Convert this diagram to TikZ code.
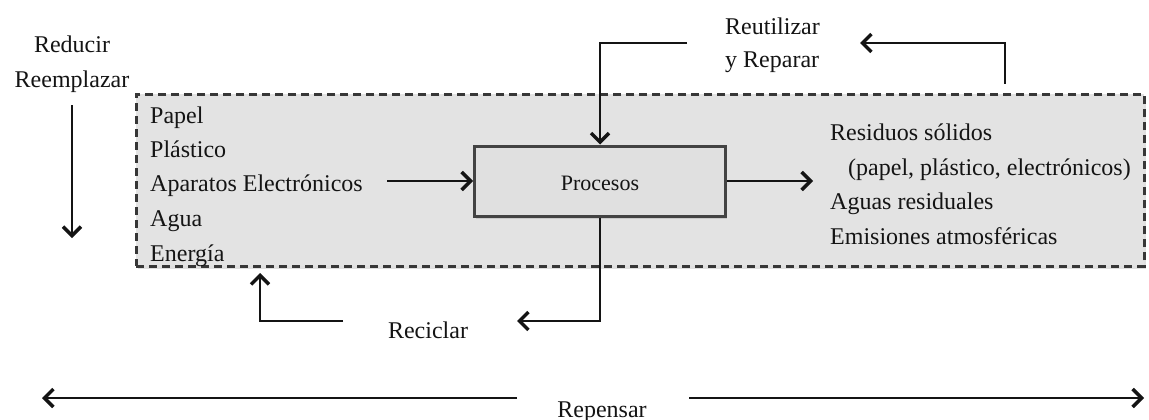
\documentclass[tikz,border=0pt]{standalone}
\usepackage{fontspec}
\setmainfont{Liberation Serif}
\usetikzlibrary{arrows.meta,shadows}
\definecolor{boxfill}{HTML}{E3E3E3}
\definecolor{procfill}{HTML}{E0E0E0}
\definecolor{ink}{HTML}{141414}
\tikzset{
  txt/.style={inner sep=0pt, text=ink, font=\fontsize{24}{28}\selectfont},
  proctxt/.style={inner sep=0pt, text=ink, font=\fontsize{22}{24}\selectfont},
  arr/.style={draw=ink, line width=2.8pt, -{Straight Barb[length=9pt,width=18pt,line width=3.4pt]}},
  sysbox/.style={draw=ink!85, line width=2.6pt, dash pattern=on 8pt off 5pt, fill=boxfill,
    drop shadow={opacity=0.25, shadow xshift=1.5pt, shadow yshift=-2.5pt}},
  procbox/.style={draw=ink!80, line width=3pt, fill=procfill,
    drop shadow={opacity=0.25, shadow xshift=1.5pt, shadow yshift=-2.5pt}},
}
\begin{document}
\begin{tikzpicture}[x=1pt,y=-1pt]
\useasboundingbox[fill=white] (0,0) rectangle (1149,420);

% system box
\node[sysbox, minimum width=1008pt, minimum height=172pt, anchor=north west, inner sep=0pt] (sys) at (135,93) {};

% Reducir / Reemplazar
\node[txt, anchor=base] (reducir) at (72,53) {Reducir};
\node[txt, anchor=base] (reemplazar) at (72,88) {Reemplazar};
\coordinate (rdtop) at (72,105);
\coordinate (rdbot) at (72,238);
\draw[arr] (rdtop) -- (rdbot);

% inputs
\node[txt, anchor=base west] (papel) at (150,123) {Papel};
\node[txt, anchor=base west] (plastico) at (150,157) {Plástico};
\node[txt, anchor=base west] (aparatos) at (150,191) {Aparatos Electrónicos};
\node[txt, anchor=base west] (agua) at (150,226) {Agua};
\node[txt, anchor=base west] (energia) at (150,261) {Energía};

% process
\node[procbox, minimum width=251pt, minimum height=70pt, inner sep=0pt] (proc) at (600,181) {};
\node[proctxt] (proclabel) at (600,183) {Procesos};

\coordinate (inA) at (387,181);
\draw[arr] (inA) -- (proc.west);
\coordinate (outA) at (813,181);
\draw[arr] (proc.east) -- (outA);

% outputs
\node[txt, anchor=base west] (residuos) at (830,140) {Residuos sólidos};
\node[txt, anchor=base west] (papelpl) at (848,175) {(papel, plástico, electrónicos)};
\node[txt, anchor=base west] (aguasr) at (830,209) {Aguas residuales};
\node[txt, anchor=base west] (emisiones) at (830,244) {Emisiones atmosféricas};

% Reutilizar y Reparar
\node[txt, anchor=base west] (reutilizar) at (725,35) {Reutilizar};
\node[txt, anchor=base west] (reparar) at (725,67) {y Reparar};
\coordinate (ruL) at (687,43);
\draw[arr] (ruL) -| (proc.north);
\coordinate (ruR) at (1005,84);
\coordinate (ruTip) at (860,43);
\draw[arr] (ruR) |- (ruTip);

% Reciclar
\node[txt, anchor=base] (reciclar) at (428,338) {Reciclar};
\coordinate (reTip) at (517,321);
\draw[arr] (proc.south) |- (reTip);
\coordinate (reL) at (343,321);
\coordinate (reUp) at (260,273);
\draw[arr] (reL) -| (reUp);

% Repensar
\node[txt, anchor=base] (repensar) at (602,417) {Repensar};
\coordinate (rpL0) at (517,398);
\coordinate (rpL1) at (42,398);
\coordinate (rpR0) at (689,398);
\coordinate (rpR1) at (1144,398);
\draw[arr] (rpL0) -- (rpL1);
\draw[arr] (rpR0) -- (rpR1);
\end{tikzpicture}
\end{document}
